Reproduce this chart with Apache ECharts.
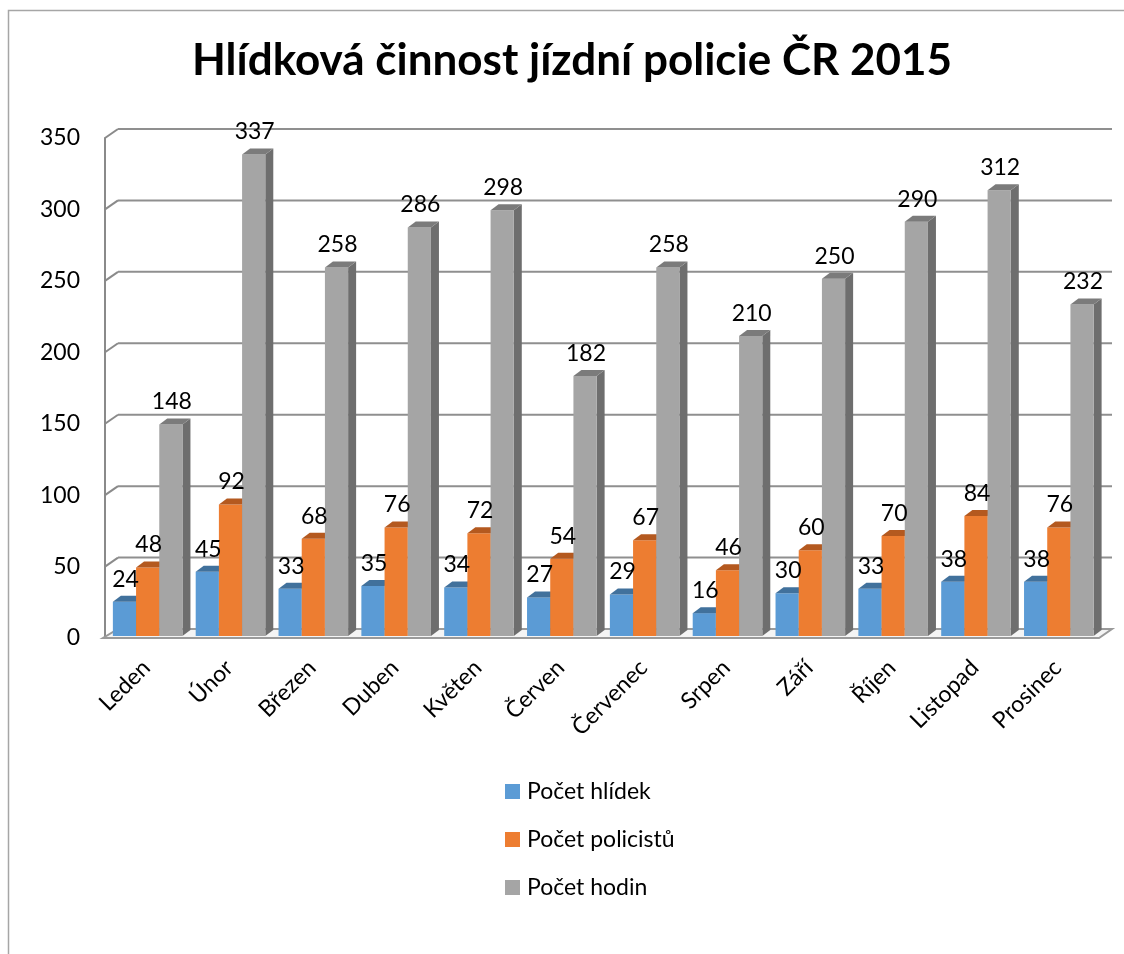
<!DOCTYPE html>
<html>
<head>
<meta charset="utf-8">
<script src="https://cdn.jsdelivr.net/npm/echarts@6/dist/echarts.min.js"></script>
<style>html,body{margin:0;padding:0;background:#fff}#c{width:1124px;height:954px}</style>
</head>
<body>
<div id="c"></div>
<script>
const categories = ['Leden','Únor','Březen','Duben','Květen','Červen','Červenec','Srpen','Září','Říjen','Listopad','Prosinec'];
const hlidky = [24,45,33,35,34,27,29,16,30,33,38,38];
const policiste = [48,92,68,76,72,54,67,46,60,70,84,76];
const hodiny = [148,337,258,286,298,182,258,210,250,290,312,232];
const seriesNames = ['Počet hlídek','Počet policistů','Počet hodin'];
const yTicks = [0,50,100,150,200,250,300,350];

const FONT = 'Lato, "Open Sans", sans-serif';
const colors = ['#5B9BD5','#ED7D31','#A5A5A5'];
const topColors = ['#41719C','#B4591F','#7B7B7B'];
const sideColors = ['#3E6E9A','#AE5A21','#6E6E6E'];
const DX = 8, DY = 6;

function barGeom(api, i, v, k) {
  const base = api.coord([i, 0]);
  const tp = api.coord([i, v]);
  const band = api.size([1, 0])[0];
  const bw = band * 0.28;
  const x0 = base[0] - band / 2 + band * 0.095 + k * bw;
  return {x0: x0, x1: x0 + bw, yb: base[1] - 2, yt: tp[1] - 2, bw: bw};
}

function barRender(k) {
  return function (params, api) {
    const g = barGeom(api, api.value(0), api.value(1), k);
    return {
      type: 'group',
      children: [
        {type: 'polygon', shape: {points: [[g.x1, g.yt], [g.x1 + DX, g.yt - DY], [g.x1 + DX, g.yb - DY], [g.x1, g.yb]]}, style: {fill: sideColors[k]}},
        {type: 'rect', shape: {x: g.x0, y: g.yt, width: g.bw, height: g.yb - g.yt}, style: {fill: colors[k]}},
        {type: 'polygon', shape: {points: [[g.x0, g.yt], [g.x0 + DX, g.yt - DY], [g.x1 + DX, g.yt - DY], [g.x1, g.yt]]}, style: {fill: topColors[k]}}
      ]
    };
  };
}

function labelRender(params, api) {
  const k = api.value(2);
  const g = barGeom(api, api.value(0), api.value(1), k);
  return {
    type: 'text',
    style: {
      x: (g.x0 + g.x1) / 2 + 1, y: g.yt - DY - 5,
      text: String(api.value(1)),
      textAlign: 'center', textVerticalAlign: 'bottom',
      font: '23px ' + FONT, fill: '#000'
    }
  };
}

function wallRender(params, api) {
  const cs = params.coordSys;
  const L = cs.x, R = cs.x + cs.width;
  const v = api.value(0);
  const y = api.coord([0, v])[1];
  const ch = [];
  if (v === 0) {
    ch.push({type: 'polygon', shape: {points: [[L - 2, y], [R, y], [R + 13, y - 9], [L + 13, y - 9]]},
      style: {fill: '#f4f4f4', stroke: '#9a9a9a', lineWidth: 2}});
  } else {
    ch.push({type: 'line', shape: {x1: L, y1: y, x2: L + 13, y2: y - 9}, style: {stroke: '#8a8a8a', lineWidth: 2}});
    ch.push({type: 'line', shape: {x1: L + 13, y1: y - 9, x2: R + 13, y2: y - 9}, style: {stroke: '#8f8f8f', lineWidth: 2}});
  }
  return {type: 'group', children: ch};
}

const labelData = [];
[hlidky, policiste, hodiny].forEach(function (arr, k) {
  arr.forEach(function (v, i) { labelData.push([i, v, k]); });
});

const chart = echarts.init(document.getElementById('c'), null, {renderer: 'canvas'});
chart.setOption({
  backgroundColor: '#fff',
  animation: false,
  title: {
    text: 'Hlídková činnost jízdní policie ČR 2015',
    left: 567, textAlign: 'center', top: 34,
    textStyle: {fontFamily: FONT, fontSize: 44, fontWeight: 'bold', color: '#000'}
  },
  graphic: [{type: 'rect', shape: {x: 8.5, y: 10.5, width: 1300, height: 1200}, style: {fill: null, stroke: '#a6a6a6', lineWidth: 1.5}, z: -10, silent: true}],
  legend: {
    orient: 'vertical', left: 500, top: 775, itemGap: 25,
    itemWidth: 15, itemHeight: 15, icon: 'rect',
    textStyle: {fontFamily: FONT, fontSize: 23, color: '#000', padding: [0, 0, 0, 2]},
    data: seriesNames
  },
  grid: {left: 105, right: 25, top: 138, bottom: 316, containLabel: false},
  xAxis: {
    type: 'category', data: categories,
    axisLine: {show: false}, axisTick: {show: false},
    axisLabel: {rotate: 45, margin: 26, fontFamily: FONT, fontSize: 23, color: '#000', interval: 0}
  },
  yAxis: {
    type: 'value', min: 0, max: 350, interval: 50,
    axisLine: {show: true, lineStyle: {color: '#8a8a8a', width: 2}},
    axisTick: {show: false}, splitLine: {show: false},
    axisLabel: {margin: 25, fontFamily: FONT, fontSize: 23, color: '#000', padding: [8, 0, 0, 0]}
  },
  series: [
    {type: 'custom', name: 'walls', renderItem: wallRender, data: yTicks.map(function (t) { return [t]; }), encode: {y: 0}, z: 1, silent: true},
    {type: 'custom', name: seriesNames[0], renderItem: barRender(0), data: hlidky.map(function (v, i) { return [i, v]; }), encode: {x: 0, y: 1}, itemStyle: {color: colors[0]}, z: 2},
    {type: 'custom', name: seriesNames[1], renderItem: barRender(1), data: policiste.map(function (v, i) { return [i, v]; }), encode: {x: 0, y: 1}, itemStyle: {color: colors[1]}, z: 3},
    {type: 'custom', name: seriesNames[2], renderItem: barRender(2), data: hodiny.map(function (v, i) { return [i, v]; }), encode: {x: 0, y: 1}, itemStyle: {color: colors[2]}, z: 4},
    {type: 'custom', name: 'labels', renderItem: labelRender, data: labelData, encode: {x: 0, y: 1}, z: 10, silent: true}
  ]
});
</script>
</body>
</html>
